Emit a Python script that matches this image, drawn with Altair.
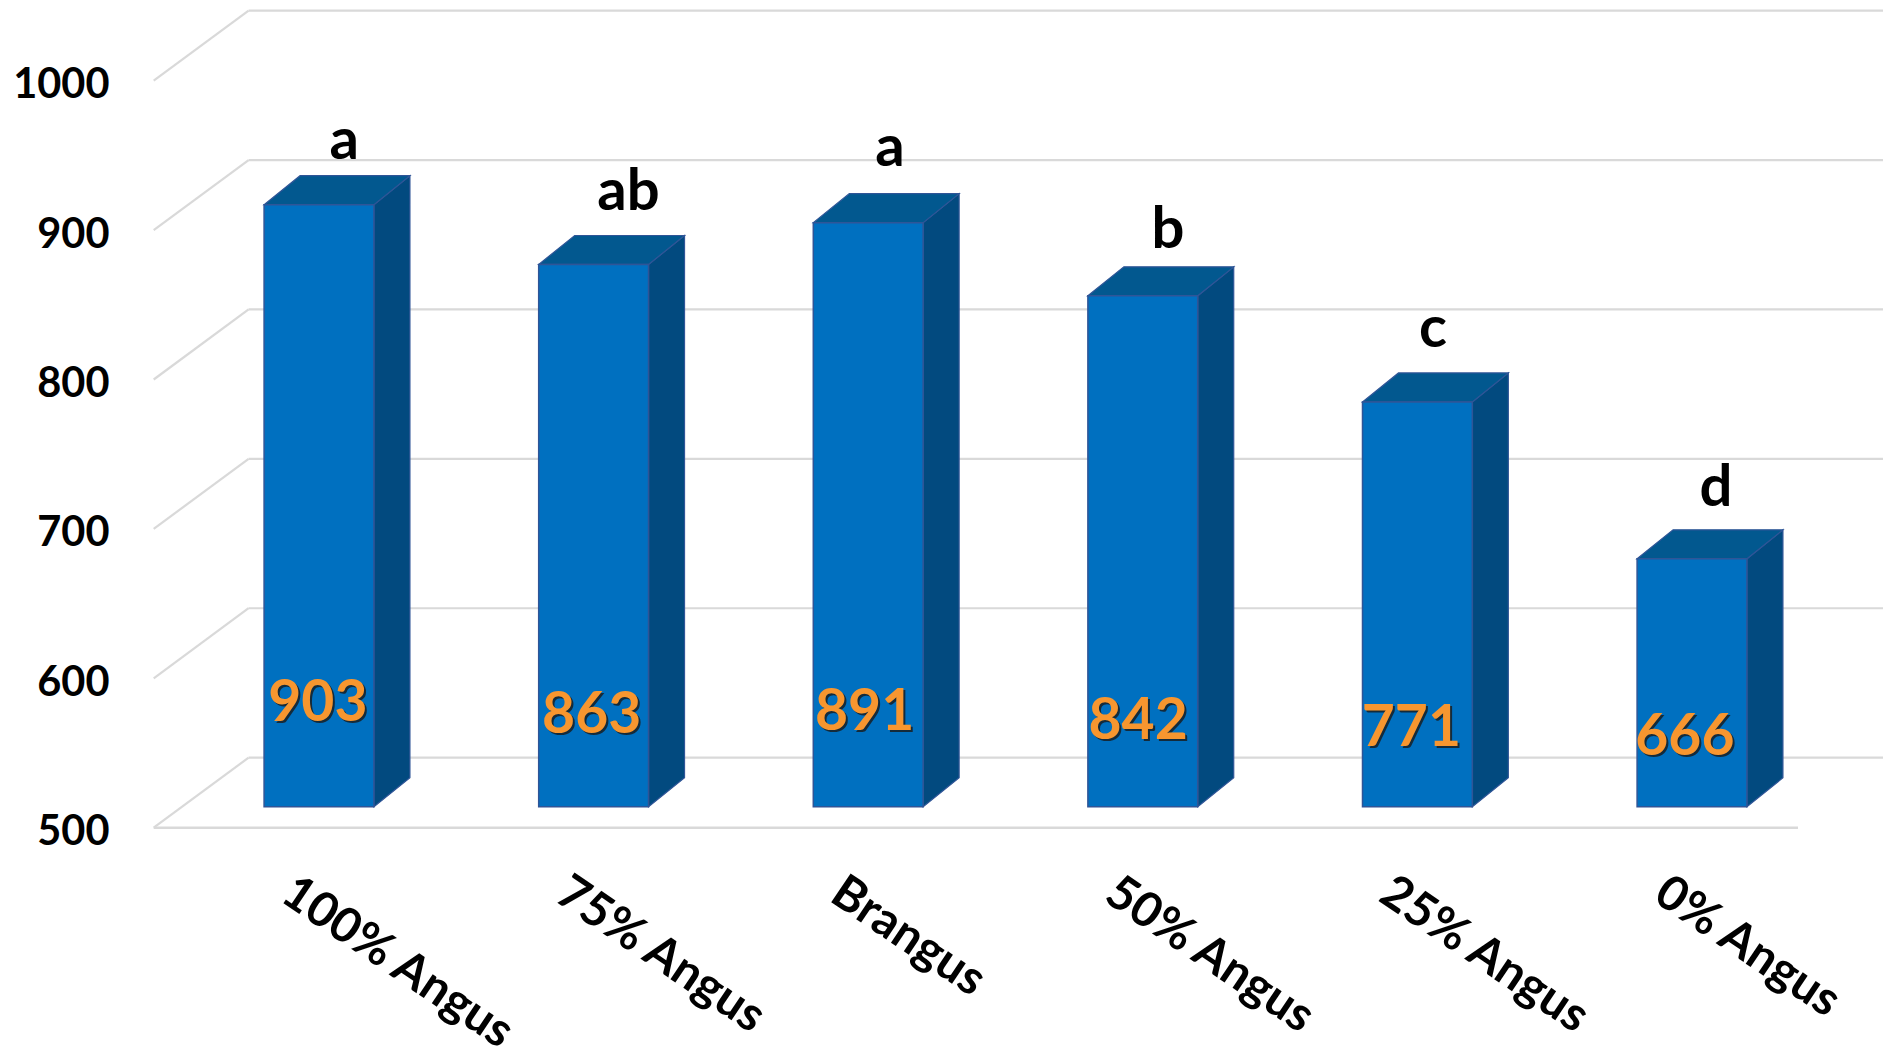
import altair as alt
import pandas as pd

# Chart values
categories = ["100% Angus", "75% Angus", "Brangus", "50% Angus", "25% Angus", "0% Angus"]
weights = [903, 863, 891, 842, 771, 666]
letters = ["a", "ab", "a", "b", "c", "d"]
levels = [500, 600, 700, 800, 900, 1000]

# Oblique projection, in x-category units and y-value units
HALF_BAR = 0.2000
BAR_DX, BAR_DY = 0.1311, 19.4
BAR_LIFT = 14.0
WALL_LEFT, WALL_DX, WALL_DY = -0.602, 0.3456, 46.9
FLOOR_RIGHT = 5.386
X_MIN, X_MAX = -1.1617, 5.6955

# Hand placement of the annotations
letter_dx = [0.092, 0.127, 0.079, 0.092, 0.057, 0.087]
letter_rise = [56, 62, 63, 57.5, 62, 61]
value_dx = [-0.004, -0.007, -0.013, -0.017, -0.022, -0.026]
value_at = [583, 575, 577, 571, 566, 560]

FRONT, TOP, SIDE, EDGE = "#0070C0", "#02588F", "#024A7F", "#2F5597"
GRID = "#D9D9D9"
FONT = "Lato"

x_scale = alt.Scale(domain=[X_MIN, X_MAX], range=[0, 1883], nice=False, zero=False)
y_scale = alt.Scale(domain=[500, 1000], range=[827.7, 80.7], nice=False, zero=False)

label_list = "[" + ",".join(f"'{c}'" for c in categories) + "][datum.value]"

# Back wall: horizontal rules, with diagonals running to the front edge
back = pd.DataFrame({"x": [WALL_LEFT + WALL_DX] * len(levels), "x2": [X_MAX] * len(levels),
                     "y": [v + WALL_DY for v in levels]})
diag = pd.DataFrame({"x": [WALL_LEFT] * len(levels), "x2": [WALL_LEFT + WALL_DX] * len(levels),
                     "y": levels, "y2": [v + WALL_DY for v in levels]})
floor = pd.DataFrame({"x": [WALL_LEFT], "x2": [FLOOR_RIGHT], "y": [levels[0]]})

back_layer = alt.Chart(back).mark_rule(color=GRID, strokeWidth=2.2).encode(
    x=alt.X("x:Q", scale=x_scale, title=None,
            axis=alt.Axis(values=list(range(len(categories))), labelExpr=label_list,
                          labelAngle=34, labelAlign="left", labelBaseline="middle",
                          labelFont=FONT, labelFontWeight="bold", labelFontSize=48,
                          labelColor="black", labelPadding=-172, labelOffset=-33,
                          labelOverlap=False, labelBound=False, labelFlush=False, labelLimit=0,
                          domain=False, ticks=False, grid=False)),
    x2="x2:Q",
    y=alt.Y("y:Q", scale=y_scale, title=None,
            axis=alt.Axis(values=levels, format="d", labelFont=FONT, labelFontWeight="bold",
                          labelFontSize=41.5, labelColor="black", labelAlign="right",
                          labelBaseline="middle", labelPadding=-109, labelOffset=5,
                          labelOverlap=False, labelBound=False, labelFlush=False,
                          domain=False, ticks=False, grid=False)),
)
diag_layer = alt.Chart(diag).mark_rule(color=GRID, strokeWidth=2.2).encode(
    x=alt.X("x:Q", scale=x_scale, axis=None), x2="x2:Q",
    y=alt.Y("y:Q", scale=y_scale, axis=None), y2="y2:Q",
)
floor_layer = alt.Chart(floor).mark_rule(color=GRID, strokeWidth=2.6).encode(
    x=alt.X("x:Q", scale=x_scale, axis=None), x2="x2:Q",
    y=alt.Y("y:Q", scale=y_scale, axis=None),
)

# Faces of each bar
front_rows, side_rows, top_rows = [], [], []
for i, v in enumerate(weights):
    l, r = i - HALF_BAR, i + HALF_BAR
    base, crown = levels[0] + BAR_LIFT, v + BAR_LIFT
    front_rows.append({"x": l, "x2": r, "y": crown, "y2": base})
    side_rows += [
        {"bar": i, "x": r, "y": crown, "y2": base},
        {"bar": i, "x": r + BAR_DX, "y": crown + BAR_DY, "y2": base + BAR_DY},
    ]
    top_rows += [
        {"bar": i, "x": l, "y": crown, "y2": crown},
        {"bar": i, "x": l + BAR_DX, "y": crown + BAR_DY, "y2": crown},
        {"bar": i, "x": r, "y": crown + BAR_DY, "y2": crown},
        {"bar": i, "x": r + BAR_DX, "y": crown + BAR_DY, "y2": crown + BAR_DY},
    ]


def face(rows, color):
    return alt.Chart(pd.DataFrame(rows)).mark_area(
        fill=color, stroke=EDGE, strokeWidth=1.2, opacity=1
    ).encode(
        x=alt.X("x:Q", scale=x_scale, axis=None),
        y=alt.Y("y:Q", scale=y_scale, axis=None),
        y2="y2:Q",
        detail="bar:N",
    )


front_layer = alt.Chart(pd.DataFrame(front_rows)).mark_rect(
    fill=FRONT, stroke=EDGE, strokeWidth=1.5
).encode(
    x=alt.X("x:Q", scale=x_scale, axis=None), x2="x2:Q",
    y=alt.Y("y:Q", scale=y_scale, axis=None), y2="y2:Q",
)

# Annotations
notes = pd.DataFrame({
    "letter": letters,
    "lx": [i + d for i, d in enumerate(letter_dx)],
    "ly": [v + r for v, r in zip(weights, letter_rise)],
    "value": weights,
    "vx": [i + d for i, d in enumerate(value_dx)],
    "vy": value_at,
})


def value_text(color, dx=0, dy=0, opacity=1.0):
    return alt.Chart(notes).mark_text(
        font=FONT, fontWeight="bold", fontSize=57, align="center", baseline="middle",
        color=color, dx=dx, dy=dy, opacity=opacity,
    ).encode(
        x=alt.X("vx:Q", scale=x_scale, axis=None),
        y=alt.Y("vy:Q", scale=y_scale, axis=None),
        text=alt.Text("value:Q", format="d"),
    )


letter_layer = alt.Chart(notes).mark_text(
    font=FONT, fontWeight="bold", fontSize=58, align="center", baseline="middle", color="black",
).encode(
    x=alt.X("lx:Q", scale=x_scale, axis=None),
    y=alt.Y("ly:Q", scale=y_scale, axis=None),
    text="letter:N",
)

chart = alt.layer(
    back_layer, diag_layer, floor_layer,
    face(side_rows, SIDE), face(top_rows, TOP), front_layer,
    value_text("#1a1a1a", dx=2, dy=2, opacity=0.8), value_text("#F7962F"),
    letter_layer,
).resolve_axis(x="independent", y="independent").properties(
    width=1883, height=1060, padding=0,
    autosize=alt.AutoSizeParams(type="none"), background="white",
).configure_view(stroke=None)

chart.save("out.html", embed_options={"renderer": "svg", "actions": False})
